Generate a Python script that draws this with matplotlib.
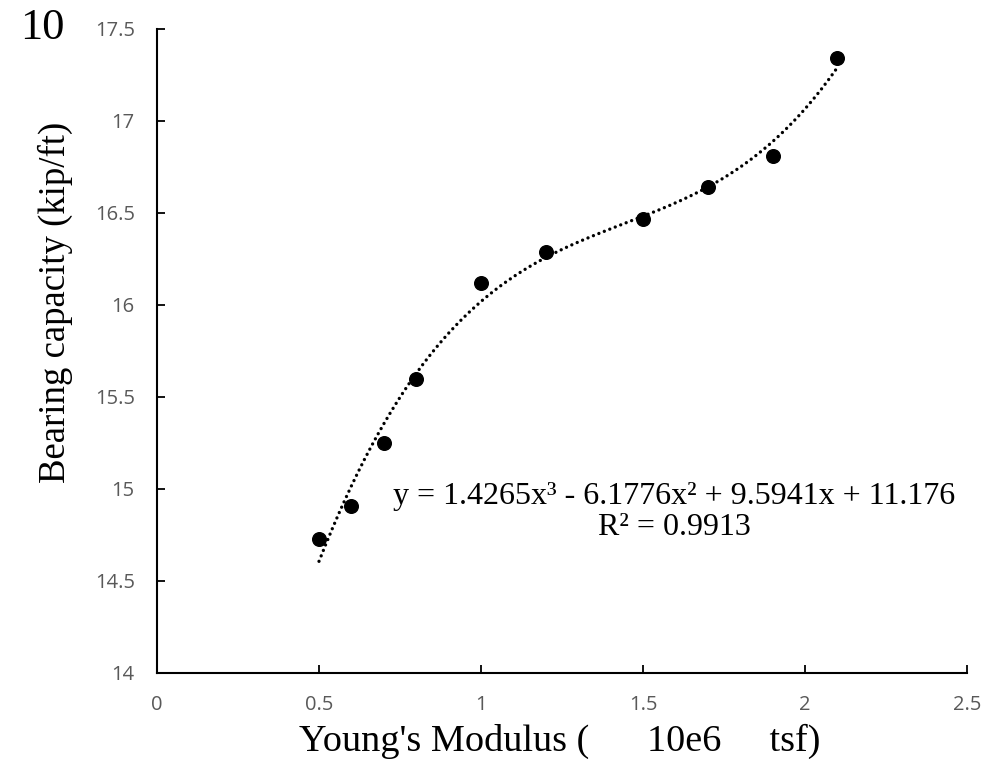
import numpy as np
import matplotlib
matplotlib.use("Agg")
import matplotlib.pyplot as plt

# Data
youngs_modulus = [0.5, 0.6, 0.7, 0.8, 1.0, 1.2, 1.5, 1.7, 1.9, 2.1]
bearing_capacity = [14.73, 14.91, 15.25, 15.60, 16.12, 16.29, 16.47, 16.64, 16.81, 17.34]
trend_coeffs = [1.4265, -6.1776, 9.5941, 11.176]  # cubic trendline, shown on chart
r_squared = 0.9913
x_ticks = [0, 0.5, 1, 1.5, 2, 2.5]
x_tick_labels = ["0", "0.5", "1", "1.5", "2", "2.5"]
y_ticks = [14, 14.5, 15, 15.5, 16, 16.5, 17, 17.5]
y_tick_labels = ["14", "14.5", "15", "15.5", "16", "16.5", "17", "17.5"]

fig = plt.figure(figsize=(9.92, 7.63), dpi=100)
ax = fig.add_axes([157/992, 90/763, 810/992, 644/763])

xs = np.linspace(min(youngs_modulus), max(youngs_modulus), 400)
ax.plot(xs, np.polyval(trend_coeffs, xs), color="black", linestyle=(0, (0.01, 1.75)),
        linewidth=2.4, dash_capstyle="round", solid_capstyle="round", zorder=2)
ax.plot(youngs_modulus, bearing_capacity, "o", color="black", markersize=9.8, zorder=3)

ax.set_xlim(0, 2.5)
ax.set_ylim(14, 17.5)
ax.set_xticks(x_ticks)
ax.set_xticklabels(x_tick_labels)
ax.set_yticks(y_ticks)
ax.set_yticklabels(y_tick_labels)
for s in ["top", "right"]:
    ax.spines[s].set_visible(False)
for s in ["left", "bottom"]:
    ax.spines[s].set_linewidth(1.5)
    ax.spines[s].set_color("black")
ax.tick_params(direction="in", length=6, width=1.3, colors="black",
               labelcolor="#595959", labelsize=14.5)
ax.tick_params(axis="x", pad=16)
ax.tick_params(axis="y", pad=16)
for lab in ax.get_xticklabels() + ax.get_yticklabels():
    lab.set_family("Open Sans")

serif = "Liberation Serif"
ax.set_xlabel("Young's Modulus (      10e6     tsf)", fontsize=27.5, family=serif)
ax.xaxis.set_label_coords(0.497, -0.079)
ax.set_ylabel("Bearing capacity (kip/ft)", fontsize=26.5, family=serif)
ax.yaxis.set_label_coords(-0.104, 0.576)
fig.text(20/992, 1 - 28/763, "10", fontsize=32, family=serif, va="center", ha="left")

c = trend_coeffs
eq = f"y = {c[0]}x\u00b3 - {abs(c[1])}x\u00b2 + {c[2]}x + {c[3]}\nR\u00b2 = {r_squared}"
ax.text(1.596, 14.875, eq, fontsize=23, family=serif, ha="center", va="center",
        multialignment="center", linespacing=1.1)

fig.savefig("out.png", dpi=100)
